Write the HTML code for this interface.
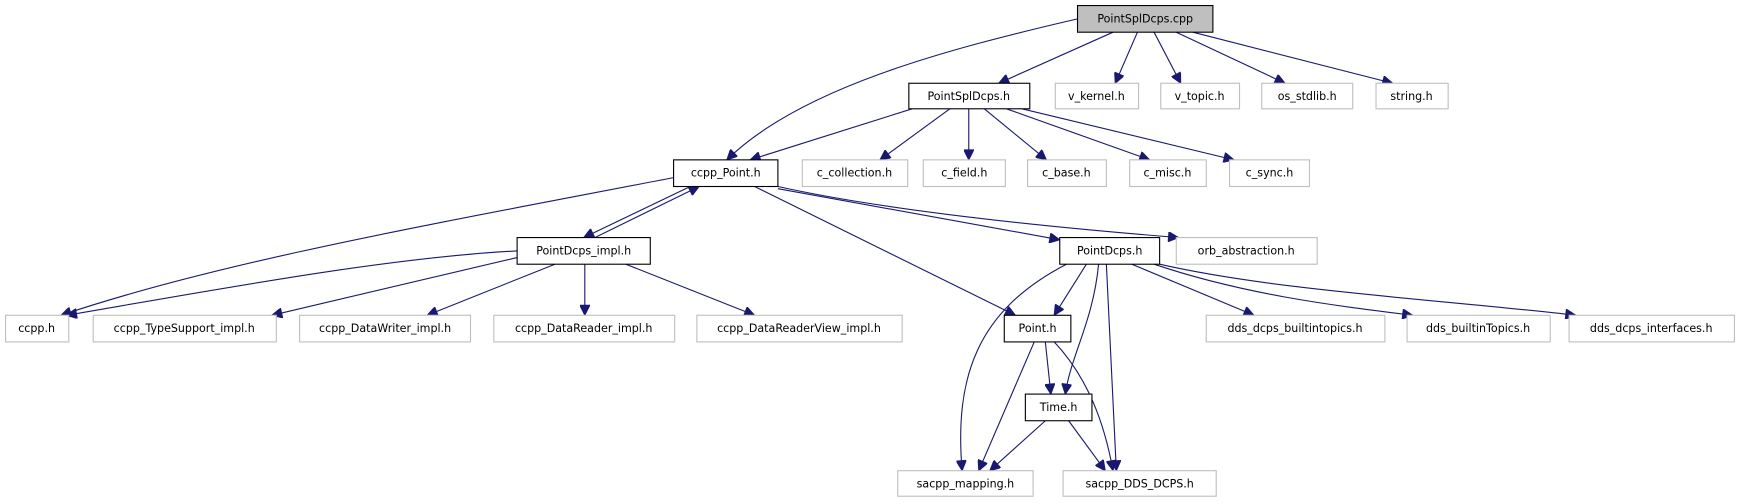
<!DOCTYPE html>
<html><head><meta charset="utf-8"><style>
html,body{margin:0;padding:0;background:#fff;}
svg{display:block}
text{font-family:"DejaVu Sans","Liberation Sans",sans-serif;font-size:10px;fill:#000;text-anchor:middle;dominant-baseline:central}
.g{fill:#fff;stroke:#bfbfbf;stroke-width:1}
.b{fill:#fff;stroke:#000;stroke-width:1}
path{fill:none;stroke:#191970;stroke-width:1}
</style></head><body>
<svg width="1740" height="504" viewBox="0 0 1568 454" preserveAspectRatio="none" xmlns="http://www.w3.org/2000/svg">
<defs><marker id="a" viewBox="0 0 10 10" refX="10" refY="5" markerWidth="11" markerHeight="9" markerUnits="userSpaceOnUse" orient="auto"><path d="M0,0 L10,5 L0,10 z" style="fill:#191970;stroke:#191970"/></marker></defs>
<g marker-end="url(#a)">
<path d="M971,17 C850,45 720,80 655,144"/>
<path d="M1003,29 L900,75"/>
<path d="M1025,29 L1005,75"/>
<path d="M1040,29 L1064,75"/>
<path d="M1060,29 L1158,75"/>
<path d="M1075,29 L1255,75"/>
<path d="M822,98 L676,144"/>
<path d="M856,98 L793,144"/>
<path d="M873,98 L873,144"/>
<path d="M887,98 L943,144"/>
<path d="M907,98 L1036,144"/>
<path d="M921,98 L1112,144"/>
<path d="M622,168 L526,214"/>
<path d="M536,214 L630,168"/>
<path d="M607,160 C400,200 200,235 55,284"/>
<path d="M680,168 L915,284"/>
<path d="M701,170 L955,216"/>
<path d="M701,168 C800,190 950,205 1062,214"/>
<path d="M466,226 C350,232 200,260 60,284"/>
<path d="M466,232 L245,284"/>
<path d="M500,238 L385,284"/>
<path d="M527,238 L527,284"/>
<path d="M564,238 L680,284"/>
<path d="M961,238 C880,280 860,340 867,424"/>
<path d="M979,238 L950,284"/>
<path d="M990,238 C985,290 965,320 960,355"/>
<path d="M997,238 L1006,424"/>
<path d="M1020,238 L1130,284"/>
<path d="M1040,238 C1120,265 1200,275 1273,284"/>
<path d="M1045,238 C1150,262 1300,270 1420,284"/>
<path d="M942,308 L947,355"/>
<path d="M932,308 L882,424"/>
<path d="M950,308 C980,340 995,380 1003,424"/>
<path d="M942,379 L892,424"/>
<path d="M963,379 L996,424"/>
</g>
<rect x="971" y="5" width="122" height="24" style="fill:#bfbfbf;stroke:#000"/><text x="1032" y="17">PointSplDcps.cpp</text>
<rect class="b" x="819" y="75" width="109" height="23"/><text x="873" y="87">PointSplDcps.h</text>
<rect class="g" x="951" y="75" width="75" height="23"/><text x="988" y="87">v_kernel.h</text>
<rect class="g" x="1046" y="75" width="71" height="23"/><text x="1081" y="87">v_topic.h</text>
<rect class="g" x="1137" y="75" width="82" height="23"/><text x="1178" y="87">os_stdlib.h</text>
<rect class="g" x="1240" y="75" width="65" height="23"/><text x="1272" y="87">string.h</text>
<rect class="b" x="607" y="144" width="94" height="24"/><text x="654" y="156">ccpp_Point.h</text>
<rect class="g" x="723" y="144" width="95" height="24"/><text x="770" y="156">c_collection.h</text>
<rect class="g" x="832" y="144" width="74" height="24"/><text x="869" y="156">c_field.h</text>
<rect class="g" x="926" y="144" width="71" height="24"/><text x="961" y="156">c_base.h</text>
<rect class="g" x="1018" y="144" width="69" height="24"/><text x="1052" y="156">c_misc.h</text>
<rect class="g" x="1108" y="144" width="72" height="24"/><text x="1144" y="156">c_sync.h</text>
<rect class="b" x="466" y="214" width="120" height="24"/><text x="526" y="226">PointDcps_impl.h</text>
<rect class="b" x="955" y="214" width="90" height="24"/><text x="1000" y="226">PointDcps.h</text>
<rect class="g" x="1060" y="214" width="127" height="24"/><text x="1123" y="226">orb_abstraction.h</text>
<rect class="g" x="5" y="284" width="57" height="24"/><text x="33" y="296">ccpp.h</text>
<rect class="g" x="84" y="284" width="165" height="24"/><text x="166" y="296">ccpp_TypeSupport_impl.h</text>
<rect class="g" x="270" y="284" width="154" height="24"/><text x="347" y="296">ccpp_DataWriter_impl.h</text>
<rect class="g" x="445" y="284" width="163" height="24"/><text x="526" y="296">ccpp_DataReader_impl.h</text>
<rect class="g" x="628" y="284" width="185" height="24"/><text x="720" y="296">ccpp_DataReaderView_impl.h</text>
<rect class="b" x="905" y="284" width="60" height="24"/><text x="935" y="296">Point.h</text>
<rect class="g" x="1087" y="284" width="161" height="24"/><text x="1167" y="296">dds_dcps_builtintopics.h</text>
<rect class="g" x="1268" y="284" width="129" height="24"/><text x="1332" y="296">dds_builtinTopics.h</text>
<rect class="g" x="1414" y="284" width="149" height="24"/><text x="1488" y="296">dds_dcps_interfaces.h</text>
<rect class="b" x="924" y="355" width="60" height="24"/><text x="954" y="367">Time.h</text>
<rect class="g" x="809" y="424" width="122" height="23"/><text x="870" y="436">sacpp_mapping.h</text>
<rect class="g" x="958" y="424" width="138" height="23"/><text x="1027" y="436">sacpp_DDS_DCPS.h</text>
</svg>
</body></html>
